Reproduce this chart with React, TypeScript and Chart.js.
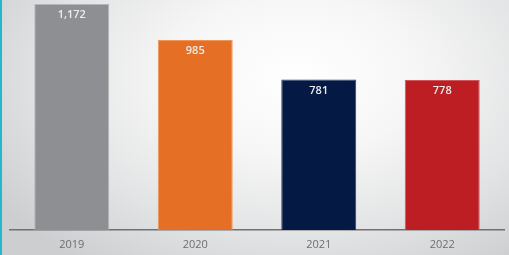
import React, { useEffect, useRef } from "react";
import { Chart, registerables } from "chart.js";

Chart.register(...registerables);

const categories = ["2019", "2020", "2021", "2022"];
const values = [1172, 985, 781, 778];
const valueLabels = ["1,172", "985", "781", "778"];
const barColors = ["#8e8f92", "#e57025", "#041a45", "#bd1e24"];
const borderColors = ["#b4b5b7", "#f0955a", "#2c3f66", "#d2575b"];

const labelPlugin = {
  id: "valueLabels",
  afterDatasetsDraw(chart: any) {
    const { ctx } = chart;
    const meta = chart.getDatasetMeta(0);
    ctx.save();
    ctx.font = "600 11px 'Open Sans', sans-serif";
    ctx.fillStyle = "#ededed";
    ctx.textAlign = "center";
    ctx.textBaseline = "middle";
    meta.data.forEach((el: any, i: number) => {
      ctx.fillText(valueLabels[i], el.x, el.y + 11);
    });
    ctx.restore();
  },
};

export default function App() {
  const ref = useRef<HTMLCanvasElement>(null);
  useEffect(() => {
    if (!ref.current) return;
    const chart = new Chart(ref.current, {
      type: "bar",
      data: {
        labels: categories,
        datasets: [
          {
            data: values,
            backgroundColor: barColors,
            borderColor: borderColors,
            borderWidth: 1,
            categoryPercentage: 1,
            barPercentage: 0.607,
          },
        ],
      },
      options: {
        animation: false,
        responsive: false,
        maintainAspectRatio: false,
        layout: { padding: { left: 10, right: 5, top: 0, bottom: 0 } },
        plugins: { legend: { display: false }, tooltip: { enabled: false } },
        scales: {
          y: { display: false, min: 0, max: 1193 },
          x: {
            grid: { display: false },
            border: { display: true, color: "#707173", width: 1.5 },
            ticks: {
              color: "#6e6e6e",
              font: { family: "'Open Sans', sans-serif", size: 11 },
              padding: 0,
            },
            afterFit: (scale: any) => {
              scale.height = 25;
            },
          },
        },
      },
      plugins: [labelPlugin],
    });
    return () => chart.destroy();
  }, []);
  return (
    <div
      style={{
        position: "fixed",
        left: 0,
        top: 0,
        width: 509,
        height: 255,
        background:
          "radial-gradient(ellipse 70% 90% at 58% 30%, #ffffff 0%, #f6f6f6 35%, #e2e3e4 70%, #cdced0 100%)",
      }}
    >
      <div style={{ position: "absolute", left: 0, top: 0, width: 2, height: 255, background: "#22b8c8" }} />
      <canvas ref={ref} width={509} height={255} style={{ position: "absolute", left: 0, top: 0 }} />
    </div>
  );
}
